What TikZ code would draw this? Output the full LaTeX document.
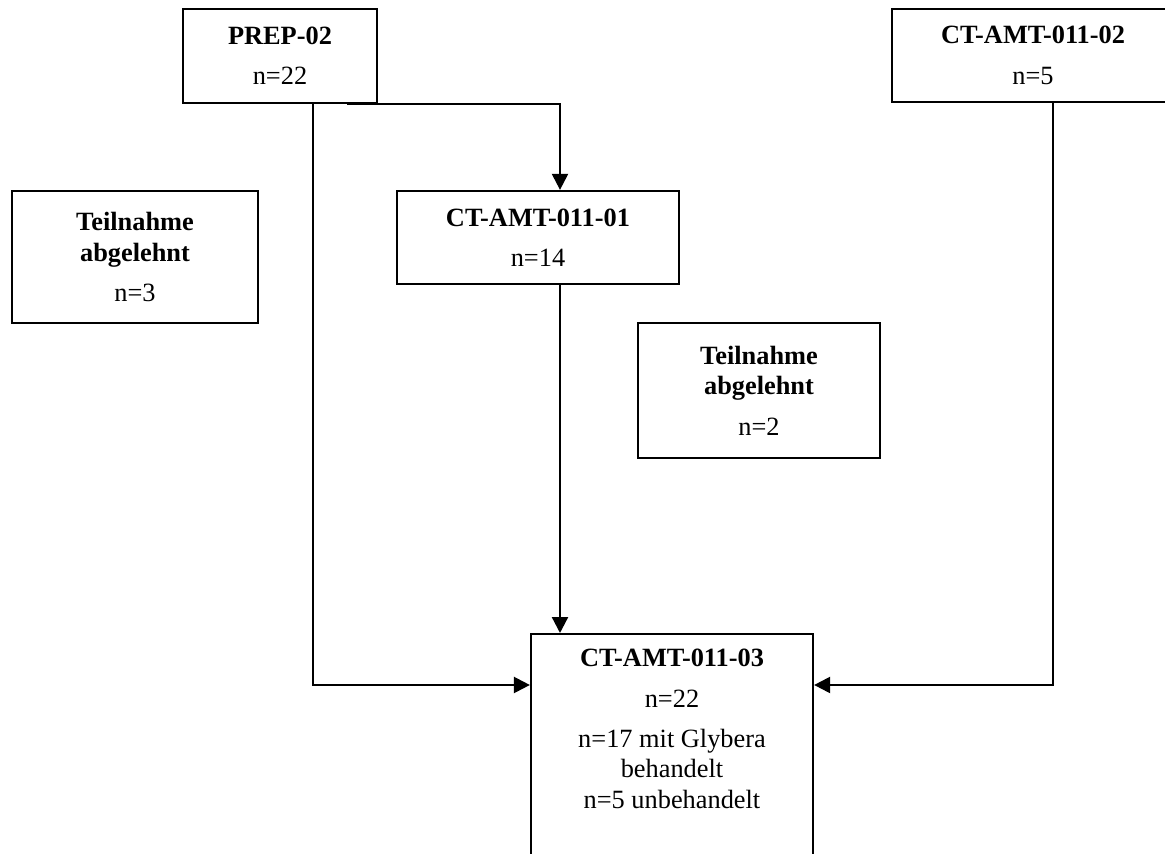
\documentclass[tikz,border=0pt]{standalone}
\usepackage{fontspec}
\setmainfont{Liberation Serif}
\usetikzlibrary{arrows.meta}
\begin{document}
\begin{tikzpicture}[x=0.02cm, y=-0.02cm,
  box/.style = {draw, line width=1.3pt, inner sep=0pt, align=center,
    font=\fontsize{15pt}{17.3pt}\selectfont},
  flow/.style = {line width=1.3pt, -{Triangle[length=0.32cm, width=0.32cm]}}]
\useasboundingbox (0,0) rectangle (1165,854);
\clip (0,0) rectangle (1165,854);
\node [box, minimum width=3.88cm, minimum height=1.88cm] (prep) at (280,56) {\textbf{PREP-02}\\[5.7pt] n=22};
\node [box, minimum width=5.64cm, minimum height=1.86cm] (ct02) at (1033,55.5) {\textbf{CT-AMT-011-02}\\[5.7pt] n=5};
\node [box, minimum width=4.92cm, minimum height=2.64cm] (refusedA) at (135,257) {\textbf{Teilnahme}\\ \textbf{abgelehnt}\\[5.7pt] n=3};
\node [box, minimum width=5.64cm, minimum height=1.86cm] (ct01) at (538,237.5) {\textbf{CT-AMT-011-01}\\[5.7pt] n=14};
\node [box, minimum width=4.84cm, minimum height=2.7cm] (refusedB) at (759,390.5) {\textbf{Teilnahme}\\ \textbf{abgelehnt}\\[5.7pt] n=2};
\node [box, anchor=north] (ct03) at (672,633) {\parbox[t][5.4cm][t]{5.64cm}{\centering\vspace*{0.3cm}%
  \textbf{CT-AMT-011-03}\\[5.7pt] n=22\\[5.7pt] n=17 mit Glybera\\ behandelt\\ n=5 unbehandelt}};
\draw [flow] ([xshift=1.34cm]prep.south) -| ([xshift=0.44cm]ct01.north);
\draw [flow] ([xshift=0.66cm]prep.south) |- ([yshift=-1.04cm]ct03.north west);
\draw [flow] ([xshift=0.44cm]ct01.south) -- ([xshift=0.44cm]ct01.south |- ct03.north);
\draw [flow] ([xshift=0.4cm]ct02.south) |- ([yshift=-1.04cm]ct03.north east);
\end{tikzpicture}
\end{document}
